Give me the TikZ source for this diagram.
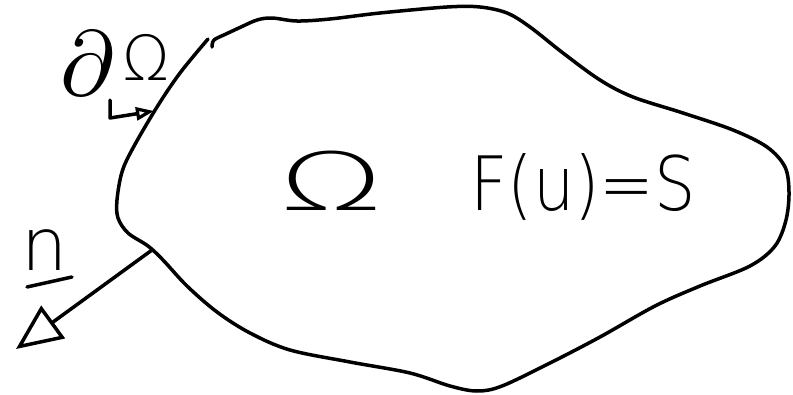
\documentclass[tikz,border=0pt]{standalone}
\usepackage{fontspec}
\newfontfamily\hand{DejaVu Sans ExtraLight}
\usetikzlibrary{arrows.meta}
\tikzset{
  ink/.style={line width=3.5pt, line cap=round, line join=round, black},
  handtext/.style={inner sep=0pt, anchor=base, font=\hand},
  bigopen/.style={-{Triangle[open, length=46pt, width=40pt, line width=3.5pt]}},
  smallopen/.style={-{Triangle[open, length=18pt, width=13pt, line width=3.2pt]}}
}
\begin{document}
\begin{tikzpicture}[x=1pt, y=-1pt]
  \fill[white] (0,0) rectangle (793,394);
  \useasboundingbox (0,0) rectangle (793,394);
  % boundary of the domain
  \draw[ink] plot[smooth, tension=0.55] coordinates {
    (212,47) (214,40) (226,34) (241,27) (257,20) (272,18) (297,21) (330,19)
    (380,13) (447,7) (480,7) (507,13) (530,27) (563,53) (600,80) (633,97)
    (683,113) (733,130) (767,147) (785,167) (789,192) (786,220) (775,246)
    (750,266) (700,286) (655,306) (600,337) (550,363) (502,386) (477,391)
    (450,386) (410,373) (350,362) (290,350) (250,333) (217,312) (187,286)
    (163,260) (148,246) (128,233) (118,218) (117,200) (122,172) (133,148)
    (157,107) (180,73) (208,39)};
  % labels
  \node[handtext] (dO) at (88,95) {\resizebox{!}{64pt}{{\normalsize$\partial$}}};
  \node[handtext, font=\hand\fontsize{62}{66}\selectfont] (dOm) at (146,80) {Ω};
  \node[handtext, font=\hand\fontsize{80}{84}\selectfont] (Om) at (331,210) {\scalebox{1.7}[1]{Ω}};
  \node[handtext, font=\hand\fontsize{75}{80}\selectfont] (Fu) at (583,210) {\scalebox{0.87}[1]{F(u)=S}};
  \node[handtext, font=\hand\fontsize{73}{76}\selectfont] (n) at (45,270) {n};
  % underline of n
  \coordinate (ul1) at (27,287);
  \coordinate (ul2) at (72,277);
  \draw[ink] (ul1) -- (ul2);
  % outward normal
  \coordinate (nbase) at (152,250);
  \coordinate (ntip) at (16,349);
  \draw[ink, bigopen] (nbase) -- (ntip);
  % arrow from the boundary label
  \coordinate (dstart) at (110,100);
  \coordinate (dcorner) at (110,118);
  \coordinate (dtip) at (154,111);
  \draw[ink, smallopen] (dstart) -- (dcorner) -- (dtip);
\end{tikzpicture}
\end{document}
